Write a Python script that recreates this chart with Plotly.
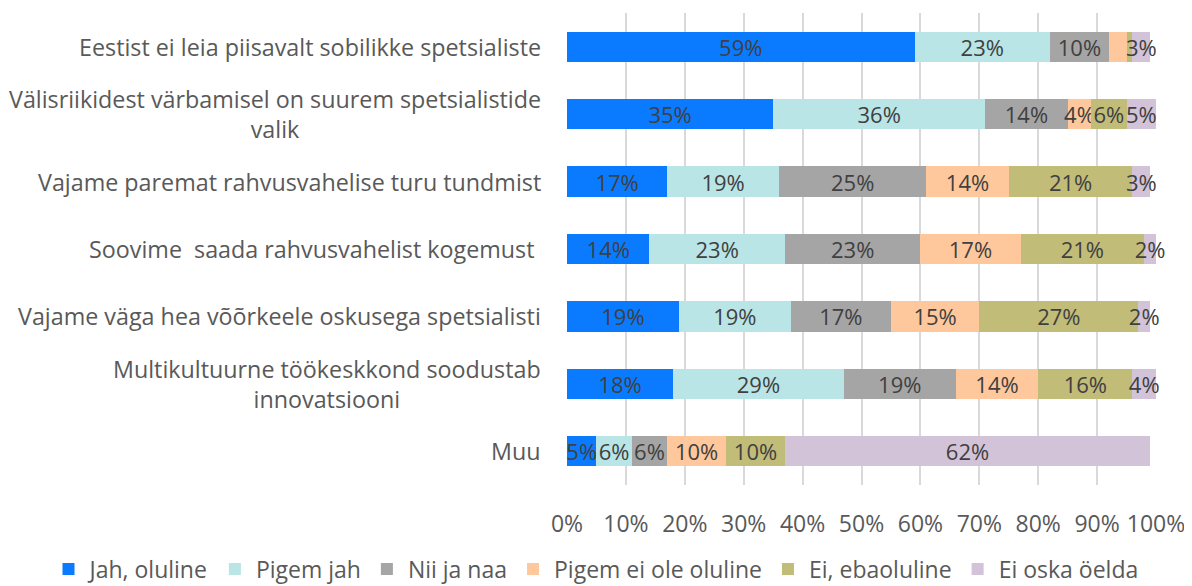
import plotly.graph_objects as go

categories = [
    "Eestist ei leia piisavalt sobilikke spetsialiste",
    "Välisriikidest värbamisel on suurem spetsialistide<br>valik",
    "Vajame paremat rahvusvahelise turu tundmist",
    "Soovime  saada rahvusvahelist kogemust ",
    "Vajame väga hea võõrkeele oskusega spetsialisti",
    "Multikultuurne töökeskkond soodustab<br>innovatsiooni",
    "Muu",
]
cat_ids = [f"c{i}" for i in range(len(categories))]

series_names = ["Jah, oluline", "Pigem jah", "Nii ja naa", "Pigem ei ole oluline", "Ei, ebaoluline", "Ei oska öelda"]
jah = [59, 35, 17, 14, 19, 18, 5]
pigem_jah = [23, 36, 19, 23, 19, 29, 6]
nii_ja_naa = [10, 14, 25, 23, 17, 19, 6]
pigem_ei = [3, 4, 14, 17, 15, 14, 10]
ei = [1, 6, 21, 21, 27, 16, 10]
ei_oska = [3, 5, 3, 2, 2, 4, 62]
# labels hidden in the original for the tiny segments of the first row
hidden = {(3, 0), (4, 0)}

values = [jah, pigem_jah, nii_ja_naa, pigem_ei, ei, ei_oska]
colors = ["#0A7BFF", "#B9E5E6", "#A5A5A5", "#FFC89C", "#C2BC79", "#D3C3D8"]

FONT = "Open Sans"

fig = go.Figure()
for si, (name, vals, col) in enumerate(zip(series_names, values, colors)):
    txt = ["" if (si, i) in hidden else f"{v}%" for i, v in enumerate(vals)]
    fig.add_trace(go.Bar(
        y=cat_ids, x=vals, name=name, orientation="h",
        marker=dict(color=col, line=dict(width=0)),
        text=txt, textposition="inside", insidetextanchor="middle",
        textangle=0, textfont=dict(family=FONT, size=22, color="#404040"),
        cliponaxis=False,
    ))

for cid, label in zip(cat_ids, categories):
    fig.add_annotation(
        x=0, xref="paper", y=cid, yref="y", text=label, showarrow=False,
        xanchor="right", yanchor="middle", align="center", xshift=-24,
        font=dict(family=FONT, size=23.3, color="#595959"),
    )

fig.update_layout(
    barmode="stack", bargap=0.55,
    width=1192, height=586,
    margin=dict(l=559, r=44, t=5, b=109, autoexpand=False),
    paper_bgcolor="white", plot_bgcolor="white",
    uniformtext=dict(minsize=22, mode="show"),
    font=dict(family=FONT, color="#595959"),
    legend=dict(
        orientation="h",
        x=-0.882, xanchor="left", y=-0.178, yanchor="middle",
        font=dict(family=FONT, size=23, color="#595959"),
        traceorder="normal", itemwidth=32,
    ),
    showlegend=True,
)
fig.update_xaxes(
    range=[0, 100], tickvals=list(range(0, 101, 10)),
    ticktext=[f"{v}%" for v in range(0, 101, 10)],
    showgrid=True, gridcolor="#D9D9D9", gridwidth=2, zeroline=False,
    showline=False, ticks="", ticklabelstandoff=23,
    tickfont=dict(family=FONT, size=23, color="#595959"),
    fixedrange=True, automargin=False,
)
fig.update_yaxes(
    autorange="reversed", showticklabels=False, showgrid=False,
    showline=False, ticks="", zeroline=False, automargin=False,
)

fig.write_html("out.html")
